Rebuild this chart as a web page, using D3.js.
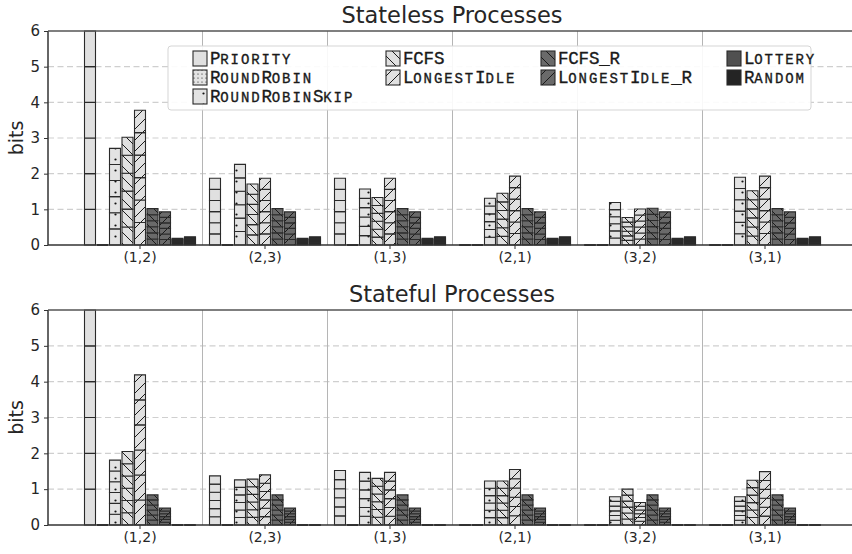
<!DOCTYPE html>
<html>
<head>
<meta charset="utf-8">
<script src="https://cdn.jsdelivr.net/npm/d3@7"></script>
<style>
  body { margin: 0; background: #fff; }
  text { font-family: "DejaVu Sans", sans-serif; fill: #262626; }
  .legend text { font-family: "Liberation Mono", monospace; fill: #1a1a1a; stroke: #1a1a1a; stroke-width: 0.35; }
</style>
</head>
<body>
<div id="chart"></div>
<script>
// Data
var pairs = ["(1,2)", "(2,3)", "(1,3)", "(2,1)", "(3,2)", "(3,1)"];
var seriesNames = ["Priority", "RoundRobin", "RoundRobinSkip", "FCFS", "LongestIdle",
  "FCFS_R", "LongestIdle_R", "Lottery", "Random"];
var yTicks = [0, 1, 2, 3, 4, 5, 6];

// Stateless processes, one array per series, in pair order
var slPriority = [6, 1.87, 1.87, 0, 0, 0];
var slRoundRobin = [0, 0, 0, 0, 0, 0];
var slRoundRobinSkip = [2.71, 2.26, 1.57, 1.31, 1.19, 1.9];
var slFCFS = [3.02, 1.71, 1.33, 1.45, 0.77, 1.52];
var slLongestIdle = [3.78, 1.87, 1.87, 1.93, 1.01, 1.93];
var slFCFS_R = [1.02, 1.02, 1.02, 1.02, 1.03, 1.02];
var slLongestIdle_R = [0.93, 0.93, 0.93, 0.93, 0.93, 0.93];
var slLottery = [0.19, 0.19, 0.19, 0.19, 0.19, 0.19];
var slRandom = [0.23, 0.23, 0.23, 0.23, 0.23, 0.23];

// Stateful processes
var sfPriority = [6, 1.37, 1.52, 0, 0, 0];
var sfRoundRobin = [0, 0, 0, 0, 0, 0];
var sfRoundRobinSkip = [1.81, 1.26, 1.47, 1.23, 0.79, 0.79];
var sfFCFS = [2.05, 1.28, 1.3, 1.23, 1.0, 1.25];
var sfLongestIdle = [4.19, 1.4, 1.47, 1.55, 0.63, 1.49];
var sfFCFS_R = [0.84, 0.84, 0.84, 0.84, 0.84, 0.84];
var sfLongestIdle_R = [0.47, 0.47, 0.47, 0.47, 0.47, 0.47];
var sfLottery = [0, 0, 0, 0, 0, 0];
var sfRandom = [0, 0, 0, 0, 0, 0];

var stateless = [slPriority, slRoundRobin, slRoundRobinSkip, slFCFS, slLongestIdle,
  slFCFS_R, slLongestIdle_R, slLottery, slRandom];
var stateful = [sfPriority, sfRoundRobin, sfRoundRobinSkip, sfFCFS, sfLongestIdle,
  sfFCFS_R, sfLongestIdle_R, sfLottery, sfRandom];

var svgWidth = 852;
var svgHeight = 554;
var nSeg = 6; // every bar is stacked from equal pieces

var svg = d3.select("#chart")
  .append("svg")
  .attr("width", svgWidth)
  .attr("height", svgHeight);

// hatch patterns
var defs = svg.append("defs");
function makePattern(id, size, bg, draw) {
  var p = defs.append("pattern")
    .attr("id", id)
    .attr("patternUnits", "userSpaceOnUse")
    .attr("width", size)
    .attr("height", size);
  p.append("rect").attr("width", size).attr("height", size).attr("fill", bg);
  draw(p, size);
}
function back(p, s) {
  p.append("path").attr("d", `M0,0L${s},${s}M${-s},0L0,${s}M${s},0L${2 * s},${s}`)
    .attr("stroke", "#1a1a1a").attr("stroke-width", 1);
}
function fwd(p, s) {
  p.append("path").attr("d", `M0,${s}L${s},0M${-s},${s}L0,0M${s},${s}L${2 * s},0`)
    .attr("stroke", "#1a1a1a").attr("stroke-width", 1);
}
makePattern("p-rr", 4, "#e3e3e3", function(p) {
  p.append("circle").attr("cx", 2).attr("cy", 2).attr("r", 0.6).attr("fill", "#111");
});
makePattern("p-rrs", 11, "#e3e3e3", function(p) {
  p.append("circle").attr("cx", 5.5).attr("cy", 5.5).attr("r", 1.1).attr("fill", "#111");
});
makePattern("p-fcfs", 11, "#e0e0e0", back);
makePattern("p-li", 11, "#e0e0e0", fwd);
makePattern("p-fcfsr", 11, "#6a6a6a", back);
makePattern("p-lir", 11, "#6a6a6a", fwd);

var fills = ["#e0e0e0", "url(#p-rr)", "url(#p-rrs)", "url(#p-fcfs)", "url(#p-li)",
  "url(#p-fcfsr)", "url(#p-lir)", "#505050", "#242424"];

var plotLeft = 48;
var plotRight = 856;

var xGroup = d3.scaleBand()
  .domain(pairs)
  .range([77.5, 827.5]);

var xBar = d3.scaleBand()
  .domain(seriesNames)
  .range([0, xGroup.bandwidth() * 0.9])
  .paddingInner(0.12)
  .paddingOuter(0.06);

function drawPanel(title, data, top, bottom) {
  var y = d3.scaleLinear().domain([0, 6]).range([bottom, top]);
  var g = svg.append("g");

  // dashed horizontal grid
  g.append("g")
    .selectAll("line")
    .data(yTicks.slice(1, 6))
    .enter().append("line")
    .attr("x1", plotLeft).attr("x2", plotRight)
    .attr("y1", d => y(d)).attr("y2", d => y(d))
    .attr("stroke", "#cfcfcf")
    .attr("stroke-width", 1.2)
    .attr("stroke-dasharray", "6,3.5");

  // vertical separators between pairs
  g.append("g")
    .selectAll("line")
    .data(pairs.slice(1))
    .enter().append("line")
    .attr("x1", d => xGroup(d)).attr("x2", d => xGroup(d))
    .attr("y1", top).attr("y2", bottom)
    .attr("stroke", "#b5b5b5")
    .attr("stroke-width", 1);

  // bars, each one stacked from nSeg equal pieces
  data.forEach(function(vals, si) {
    var name = seriesNames[si];
    var bars = g.append("g");
    pairs.forEach(function(pair, pi) {
      var v = vals[pi];
      var x0 = xGroup(pair) + xGroup.bandwidth() * 0.05 + xBar(name);
      var w = xBar.bandwidth();
      for (var k = 0; k < nSeg; k++) {
        var ya = y(v * k / nSeg);
        var yb = y(v * (k + 1) / nSeg);
        bars.append("path")
          .attr("d", `M${x0},${ya}V${yb}H${x0 + w}V${ya}Z`)
          .attr("fill", fills[si])
          .attr("stroke", "#2a2a2a")
          .attr("stroke-width", 1.1);
      }
    });
  });

  // axes
  var leftAxis = d3.axisLeft(y).tickValues(yTicks).tickFormat(d3.format("d"))
    .tickSize(4).tickPadding(4);
  var yAxis = g.append("g")
    .attr("transform", `translate(${plotLeft},0)`)
    .call(leftAxis);
  yAxis.select(".domain").remove();
  yAxis.selectAll("text").style("font-size", "15px").attr("fill", "#262626");
  yAxis.selectAll("line").attr("stroke", "#333");

  var bottomAxis = d3.axisBottom(xGroup).tickSize(4).tickPadding(3);
  var xAxis = g.append("g")
    .attr("transform", `translate(0,${bottom})`)
    .call(bottomAxis);
  xAxis.select(".domain").remove();
  xAxis.selectAll("text").style("font-size", "14px").attr("fill", "#262626");
  xAxis.selectAll("line").attr("stroke", "#333");

  // spines
  g.append("line").attr("x1", plotLeft).attr("x2", plotLeft).attr("y1", top).attr("y2", bottom)
    .attr("stroke", "#333").attr("stroke-width", 1.5);
  g.append("line").attr("x1", plotLeft).attr("x2", plotRight).attr("y1", bottom).attr("y2", bottom)
    .attr("stroke", "#333").attr("stroke-width", 1.5);
  g.append("line").attr("x1", plotLeft).attr("x2", plotRight).attr("y1", top).attr("y2", top)
    .attr("stroke", "#555").attr("stroke-width", 1.5);

  g.append("text")
    .attr("x", (plotLeft + plotRight) / 2)
    .attr("y", top - 8)
    .attr("text-anchor", "middle")
    .style("font-size", "22.5px")
    .text(title);

  g.append("text")
    .attr("transform", `translate(23,${(top + bottom) / 2}) rotate(-90)`)
    .attr("text-anchor", "middle")
    .style("font-size", "19px")
    .text("bits");
}

drawPanel("Stateless Processes", stateless, 31, 245);
drawPanel("Stateful Processes", stateful, 310, 525);

// legend, filled column by column like matplotlib (3,2,2,2)
var legendCols = [[0, 1, 2], [3, 4], [5, 6], [7, 8]];
var colX = [193, 386, 541, 727];
var legend = svg.append("g").attr("class", "legend");
legend.append("rect")
  .attr("x", 168).attr("y", 46)
  .attr("width", 643).attr("height", 64)
  .attr("rx", 3)
  .attr("fill", "#fff")
  .attr("fill-opacity", 0.9)
  .attr("stroke", "#d5d5d5");

// typewriter small caps: every letter on a fixed advance
function smallCaps(sel, label, x0) {
  label.split("").forEach(function(ch, i) {
    var isLower = ch !== ch.toUpperCase();
    sel.append("tspan")
      .attr("x", x0 + i * 10.3)
      .style("font-size", isLower ? "14px" : "17.5px")
      .text(ch.toUpperCase());
  });
}

legendCols.forEach(function(col, ci) {
  col.forEach(function(si, ri) {
    var ly = 51 + ri * 19;
    legend.append("rect")
      .attr("x", colX[ci]).attr("y", ly)
      .attr("width", 14).attr("height", 15)
      .attr("fill", fills[si])
      .attr("stroke", "#2a2a2a")
      .attr("stroke-width", 1.1);
    var t = legend.append("text")
      .attr("y", ly + 13);
    smallCaps(t, seriesNames[si], colX[ci] + 17);
  });
});
</script>
</body>
</html>
